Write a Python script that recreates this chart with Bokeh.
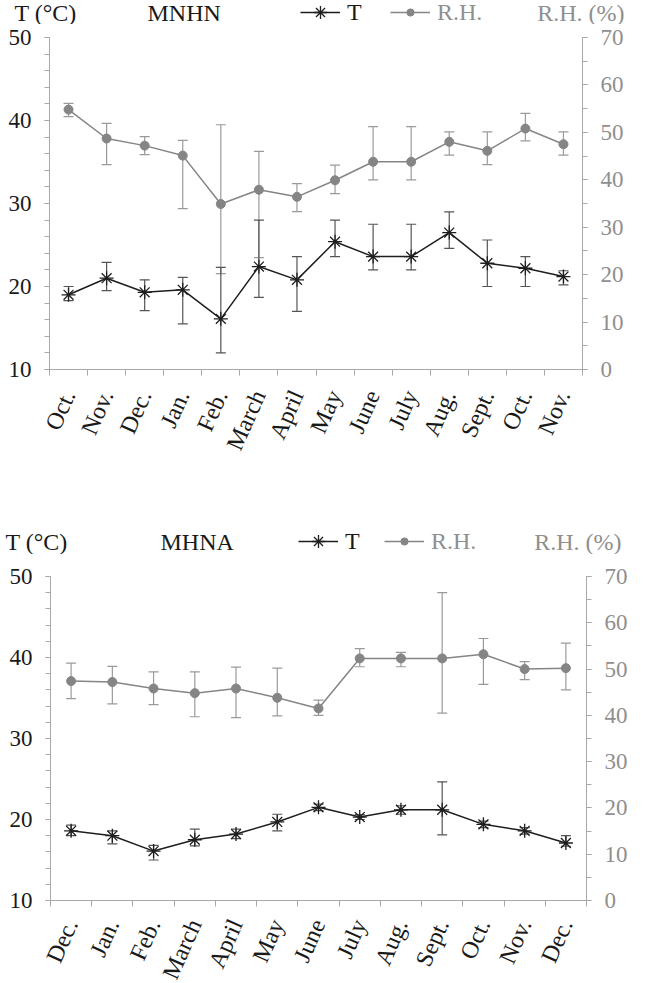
import numpy as np
from bokeh.plotting import figure
from bokeh.models import (Range1d, LinearAxis, SingleIntervalTicker, FixedTicker,
                          Legend, LegendItem, Label)
from bokeh.layouts import column
from bokeh.embed import file_html
from bokeh.resources import INLINE

FONT = "Liberation Serif"

# ---------------- data: MNHN ----------------
months_mnhn = ["Oct.", "Nov.", "Dec.", "Jan.", "Feb.", "March", "April", "May",
               "June", "July", "Aug.", "Sept.", "Oct.", "Nov."]
t_mnhn = [19.0, 21.0, 19.3, 19.6, 16.1, 22.4, 20.8, 25.4, 23.6, 23.6, 26.5, 22.8, 22.2, 21.2]
t_mnhn_hi = [20.0, 22.9, 20.8, 21.1, 22.3, 28.0, 23.6, 28.0, 27.5, 27.5, 29.0, 25.6, 23.6, 21.9]
t_mnhn_lo = [18.3, 19.5, 17.1, 15.5, 12.0, 18.7, 17.0, 23.6, 22.0, 22.0, 24.6, 20.0, 20.0, 20.2]
rh_mnhn = [54.8, 48.7, 47.2, 45.1, 34.9, 37.9, 36.4, 39.9, 43.8, 43.8, 48.0, 46.1, 50.8, 47.5]
rh_mnhn_hi = [56.1, 51.9, 49.1, 48.3, 51.6, 46.0, 39.2, 43.1, 51.2, 51.2, 50.1, 50.1, 54.0, 50.1]
rh_mnhn_lo = [53.3, 43.2, 45.3, 33.9, 20.2, 23.6, 33.3, 37.1, 40.0, 40.0, 45.2, 43.2, 48.2, 45.2]

# ---------------- data: MHNA ----------------
months_mhna = ["Dec.", "Jan.", "Feb.", "March", "April", "May", "June", "July",
               "Aug.", "Sept.", "Oct.", "Nov.", "Dec."]
t_mhna = [18.6, 18.0, 16.1, 17.5, 18.2, 19.7, 21.5, 20.3, 21.2, 21.2, 19.4, 18.6, 17.1]
t_mhna_hi = [19.3, 18.6, 16.8, 18.8, 18.8, 20.65, 21.9, 20.6, 21.7, 24.65, 19.8, 19.0, 18.0]
t_mhna_lo = [18.0, 17.0, 15.0, 16.75, 17.65, 18.6, 21.1, 20.0, 20.65, 18.1, 19.0, 18.2, 16.7]
rh_mhna = [47.4, 47.2, 45.8, 44.8, 45.8, 43.8, 41.5, 52.3, 52.3, 52.3, 53.2, 50.0, 50.2]
rh_mhna_hi = [51.3, 50.6, 49.4, 49.4, 50.4, 50.2, 43.3, 54.4, 53.6, 66.5, 56.6, 51.6, 55.6]
rh_mhna_lo = [43.6, 42.5, 42.3, 39.7, 39.5, 39.9, 40.0, 50.5, 50.5, 40.5, 46.7, 47.7, 45.5]

T_RANGE = (10, 50)
RH_RANGE = (0, 70)

AXIS_GRAY = "#a8a8a8"
T_COLOR = "#1e1e1e"
T_ERR = "#555555"
RH_COLOR = "#858585"
RH_ERR = "#9a9a9a"
RH_TEXT = "#8f8f8f"
BLACK = "#1a1a1a"
CANVAS_W = 632
NAN = float("nan")
LEG_H = 32
DOT_BOX = 18


def add_series(p, x, t, t_lo, t_hi, rh, rh_lo, rh_hi):
    p.segment(x0=x, y0=rh_lo, x1=x, y1=rh_hi, line_color=RH_ERR, line_width=1.2, y_range_name="rh")
    p.scatter(x=x, y=rh_lo, marker="dash", size=10, line_color=RH_ERR, line_width=1.2, y_range_name="rh")
    p.scatter(x=x, y=rh_hi, marker="dash", size=10, line_color=RH_ERR, line_width=1.2, y_range_name="rh")
    p.line(x=x, y=rh, line_color=RH_COLOR, line_width=1.5, y_range_name="rh")
    p.scatter(x=x, y=rh, marker="circle", size=9, fill_color=RH_COLOR, line_color=RH_COLOR,
              y_range_name="rh")
    p.segment(x0=x, y0=t_lo, x1=x, y1=t_hi, line_color=T_ERR, line_width=1.2)
    p.scatter(x=x, y=t_lo, marker="dash", size=10, line_color=T_ERR, line_width=1.2)
    p.scatter(x=x, y=t_hi, marker="dash", size=10, line_color=T_ERR, line_width=1.2)
    p.line(x=x, y=t, line_color=T_COLOR, line_width=1.5)
    p.scatter(x=x, y=t, marker="asterisk", size=14, line_color=T_COLOR, line_width=1.3)


def make_panel(months, t, t_lo, t_hi, rh, rh_lo, rh_hi, g):
    n = len(months)
    x = np.arange(n)
    p = figure(frame_width=g["fw"], frame_height=g["fh"],
               x_range=Range1d(-0.5, n - 0.5), y_range=Range1d(*T_RANGE),
               output_backend="svg", toolbar_location=None,
               min_border_left=g["left"], min_border_right=CANVAS_W - g["left"] - g["fw"],
               min_border_top=g["top"], min_border_bottom=g["bottom"])
    p.frame_align = False
    p.extra_y_ranges = {"rh": Range1d(*RH_RANGE)}
    p.outline_line_color = None
    p.xgrid.visible = False
    p.ygrid.visible = False

    xa = p.xaxis[0]
    xa.ticker = FixedTicker(ticks=list(x), minor_ticks=list(np.arange(n + 1) - 0.5))
    xa.major_label_overrides = {int(i): m for i, m in zip(x, months)}
    xa.major_label_orientation = 1.15
    xa.major_tick_out = 0
    xa.major_tick_in = 0
    xa.minor_tick_out = 6
    xa.minor_tick_in = 0
    xa.axis_line_color = AXIS_GRAY
    xa.minor_tick_line_color = AXIS_GRAY
    xa.major_label_text_font = FONT
    xa.major_label_text_font_size = "24px"
    xa.major_label_text_color = BLACK
    xa.major_label_standoff = g["xstand"]

    ya = p.yaxis[0]
    ya.ticker = SingleIntervalTicker(interval=10, num_minor_ticks=5)
    ra = LinearAxis(y_range_name="rh", ticker=SingleIntervalTicker(interval=10, num_minor_ticks=2))
    p.add_layout(ra, "right")
    for a, col in ((ya, BLACK), (ra, RH_TEXT)):
        a.axis_line_color = AXIS_GRAY
        a.major_tick_line_color = AXIS_GRAY
        a.minor_tick_line_color = AXIS_GRAY
        a.major_tick_in = 0
        a.major_tick_out = 5
        a.minor_tick_in = 0
        a.minor_tick_out = 5
        a.major_label_text_font = FONT
        a.major_label_text_font_size = "23px"
        a.major_label_text_color = col
        a.major_label_standoff = 13

    add_series(p, x, t, t_lo, t_hi, rh, rh_lo, rh_hi)
    return p


def leg(items, loc, col, gw, gh, lh, size="24px", standoff=7):
    return Legend(items=items, location=loc, orientation="horizontal",
                  border_line_color=None, background_fill_alpha=0,
                  padding=0, margin=0, spacing=0,
                  glyph_width=gw, glyph_height=gh, label_height=lh,
                  label_standoff=standoff, label_text_font=FONT,
                  label_text_font_size=size, label_text_color=col)


def make_header(name, h):
    hp = figure(width=CANVAS_W, height=h["height"], x_range=Range1d(0, CANVAS_W),
                y_range=Range1d(0, h["height"]), x_axis_type=None, y_axis_type=None,
                output_backend="svg", toolbar_location=None,
                min_border_left=0, min_border_right=0, min_border_top=0, min_border_bottom=0)
    hp.frame_align = False
    hp.outline_line_color = None
    hp.xgrid.visible = False
    hp.ygrid.visible = False
    cy = h["cy"]
    for txt, xx, align, col in [("T (°C)", h["tx"], "left", BLACK),
                                (name, h["nx"], "left", BLACK),
                                ("R.H. (%)", h["rx"], "right", RH_TEXT)]:
        hp.add_layout(Label(x=xx, y=cy, x_units="data", y_units="data", text=txt,
                            text_font=FONT, text_font_size="24px", text_font_style="normal",
                            text_color=col, text_align=align, text_baseline="middle"))
    # legend proxies: styled like the series, holding no visible point
    tl = hp.line(x=[NAN], y=[NAN], line_color=T_COLOR, line_width=1.5)
    ts = hp.scatter(x=[NAN], y=[NAN], marker="asterisk", size=14, line_color=T_COLOR, line_width=1.3)
    rl = hp.line(x=[NAN], y=[NAN], line_color=RH_COLOR, line_width=1.5)
    rs = hp.scatter(x=[NAN], y=[NAN], marker="circle", size=9, fill_color=RH_COLOR, line_color=RH_COLOR)
    ly = cy - LEG_H // 2
    hp.add_layout(leg([LegendItem(label="T", renderers=[tl, ts])], (h["leg_t"], ly),
                      BLACK, 40, LEG_H, LEG_H))
    hp.add_layout(leg([LegendItem(label="R.H.", renderers=[rl])], (h["leg_rh"], ly),
                      RH_TEXT, 40, LEG_H, LEG_H))
    # smaller dot sitting on the middle of the R.H. legend line
    hp.add_layout(leg([LegendItem(label=" ", renderers=[rs])],
                      (h["leg_rh"] + 20 - DOT_BOX // 2, cy - DOT_BOX // 2),
                      RH_TEXT, DOT_BOX, DOT_BOX, DOT_BOX, size="1px", standoff=0))
    return hp


h_top = dict(height=24, cy=12, tx=14, nx=147, rx=624, leg_t=300, leg_rh=390)
g_top = dict(fw=533, fh=332, left=49, top=13, bottom=131, xstand=16)
h_bot = dict(height=54, cy=13, tx=5, nx=160, rx=621, leg_t=298, leg_rh=384)
g_bot = dict(fw=536, fh=324, left=50, top=22, bottom=60, xstand=14)

hdr1 = make_header("MNHN", h_top)
p1 = make_panel(months_mnhn, t_mnhn, t_mnhn_lo, t_mnhn_hi, rh_mnhn, rh_mnhn_lo, rh_mnhn_hi, g_top)
hdr2 = make_header("MHNA", h_bot)
p2 = make_panel(months_mhna, t_mhna, t_mhna_lo, t_mhna_hi, rh_mhna, rh_mhna_lo, rh_mhna_hi, g_bot)

layout = column(hdr1, p1, hdr2, p2, spacing=0)
open("out.html", "w").write(file_html(layout, INLINE))
